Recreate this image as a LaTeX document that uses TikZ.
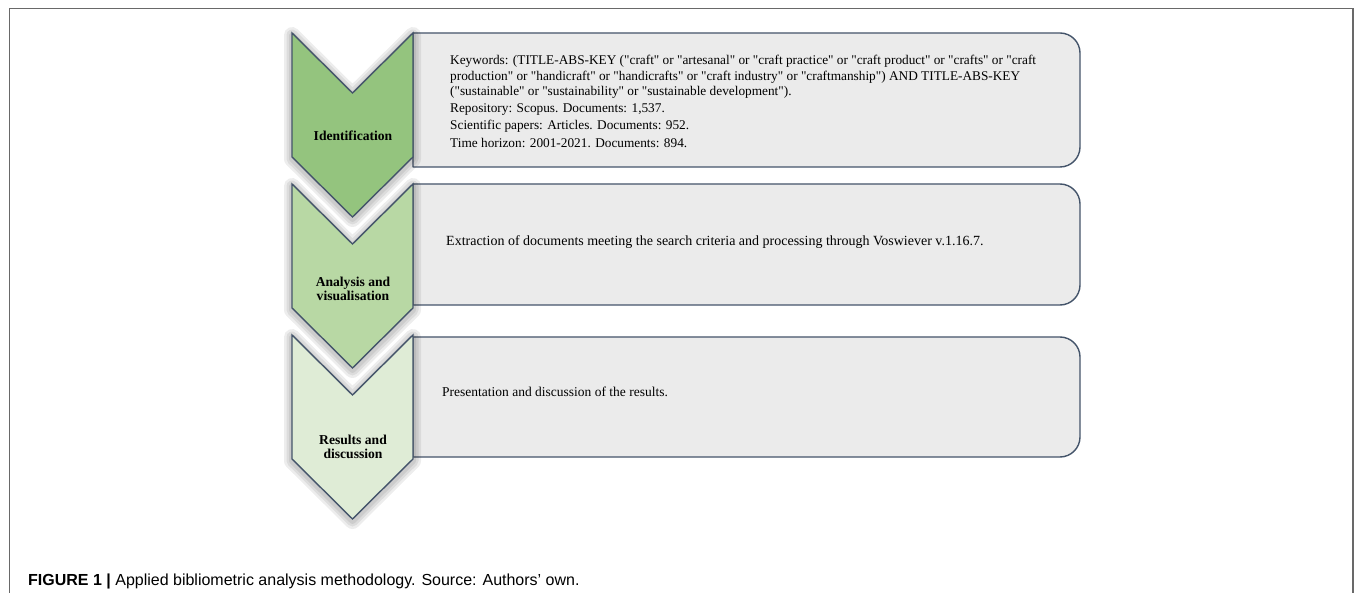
\documentclass[tikz,border=0pt]{standalone}
\usepackage{fontspec}
\setmainfont{Liberation Serif}[Ligatures=TeXOff]
\newfontfamily\capfont{Liberation Sans}
\definecolor{edgec}{RGB}{68,84,106}
\definecolor{boxfill}{RGB}{235,235,235}
\definecolor{gA}{RGB}{148,196,126}
\definecolor{gB}{RGB}{184,216,164}
\definecolor{gC}{RGB}{223,236,214}
\definecolor{framec}{RGB}{105,105,105}
\tikzset{
  chevpath/.style={insert path={(292,#1) -- (352.5,#1+60) -- (413,#1) -- (413,#1+124) -- (352.5,#1+184) -- (292,#1+124) -- cycle}},
  boxpath/.style args={#1/#2}{insert path={(413,#1) -- (1060,#1) .. controls (1071,#1) and (1080,#1+9) .. (1080,#1+20) -- (1080,#2-20) .. controls (1080,#2-9) and (1071,#2) .. (1060,#2) -- (413,#2) -- cycle}},
  boxline/.style={draw=edgec, line width=1.4pt, fill=boxfill, line join=round},
  chevline/.style={draw=edgec, line width=1.4pt, line join=miter},
  btext/.style={anchor=base west, inner sep=0pt, font=\fontsize{13.3}{15}\selectfont},
  lab/.style={anchor=base, inner sep=0pt, font=\fontsize{13.6}{15}\selectfont\bfseries},
}
\begin{document}
\begin{tikzpicture}[x=1pt,y=-1pt]
\useasboundingbox (0,0) rectangle (1355,593);
\fill[white] (0,0) rectangle (1355,593);
% frame
\draw[framec, line width=1.5pt] (9.5,593) -- (9.5,8.5) -- (1353,8.5) -- (1353,593);
% boxes
\path[boxline, boxpath=33/167];
\path[boxline, boxpath=184/305];
\path[boxline, boxpath=337/457];
% chevrons with soft shadow
\foreach \y/\c in {335/gC,184/gB,33/gA}{
  \foreach \w in {16,11,6}{
    \draw[black, opacity=0.07, line width=\w pt, line join=round, yshift=-2pt, chevpath=\y];
  }
  \path[chevline, fill=\c, chevpath=\y];
}
% box 1 text
\node[btext] (k1) at (450,65) {Keywords: (TITLE-ABS-KEY ("craft" or "artesanal" or "craft practice" or "craft product" or "crafts" or "craft};
\node[btext] (k2) at (450,80.5) {production" or "handicraft" or "handicrafts" or "craft industry" or "craftmanship") AND TITLE-ABS-KEY};
\node[btext] (k3) at (450,96) {("sustainable" or "sustainability" or "sustainable development").};
\node[btext] (k4) at (450,113) {Repository: Scopus. Documents: 1,537.};
\node[btext] (k5) at (450,130) {Scientific papers: Articles. Documents: 952.};
\node[btext] (k6) at (450,147.5) {Time horizon: 2001-2021. Documents: 894.};
% box 2, 3 text
\node[btext, font=\fontsize{14}{15}\selectfont] (e1) at (446,246) {Extraction of documents meeting the search criteria and processing through Voswiever v.1.16.7.};
\node[btext, font=\fontsize{13.5}{15}\selectfont] (p1) at (442,396.5) {Presentation and discussion of the results.};
% labels
\node[lab] (l1) at (353,140.7) {Identification};
\node[lab] (l2a) at (353,286.7) {Analysis and};
\node[lab] (l2b) at (353,300.7) {visualisation};
\node[lab] (l3a) at (353,444) {Results and};
\node[lab] (l3b) at (353,458.3) {discussion};
% caption
\node[anchor=base west, inner sep=0pt, font=\capfont\fontsize{16}{18}\selectfont] (cap) at (28,585) {\textbf{FIGURE 1 |} Applied bibliometric analysis methodology. Source: Authors’ own.};
\end{tikzpicture}
\end{document}
